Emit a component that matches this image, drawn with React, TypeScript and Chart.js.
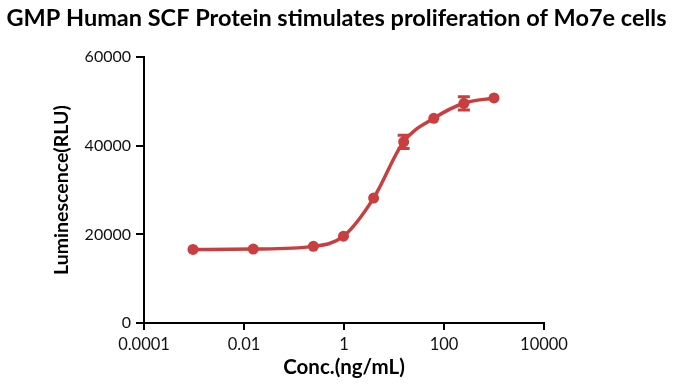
import React, { useEffect, useRef } from "react";
import { Chart, registerables } from "chart.js";

Chart.register(...registerables);

const titleText = "GMP Human SCF Protein stimulates proliferation of Mo7e cells";
const xAxisTitle = "Conc.(ng/mL)";
const yAxisTitle = "Luminescence(RLU)";

const concentrations = [0.000954, 0.0153, 0.244, 0.977, 3.91, 15.6, 62.5, 250, 1000];
const luminescence = [16600, 16700, 17300, 19600, 28200, 40900, 46200, 49600, 50800];
const errors = [0, 0, 0, 0, 0, 1500, 0, 1500, 0];

const xTicks = [0.0001, 0.01, 1, 100, 10000];
const xTickLabels = ["0.0001", "0.01", "1", "100", "10000"];
const yTicks = [0, 20000, 40000, 60000];

const RED = "#c93e3e";
const FONT = "Lato, 'Open Sans', sans-serif";

const errorBarPlugin = {
  id: "errorBars",
  afterDatasetsDraw(chart: any) {
    const { ctx, scales } = chart;
    const xs = scales.x;
    const ys = scales.y;
    ctx.save();
    ctx.strokeStyle = RED;
    ctx.lineWidth = 3;
    for (let i = 0; i < concentrations.length; i++) {
      if (!errors[i]) continue;
      const px = xs.getPixelForValue(concentrations[i]);
      const top = ys.getPixelForValue(luminescence[i] + errors[i]);
      const bot = ys.getPixelForValue(luminescence[i] - errors[i]);
      ctx.beginPath();
      ctx.moveTo(px, top);
      ctx.lineTo(px, bot);
      ctx.moveTo(px - 6, top);
      ctx.lineTo(px + 6, top);
      ctx.moveTo(px - 6, bot);
      ctx.lineTo(px + 6, bot);
      ctx.stroke();
    }
    ctx.restore();
  },
};

export default function App() {
  const ref = useRef<HTMLCanvasElement | null>(null);
  useEffect(() => {
    if (!ref.current) return;
    const chart = new Chart(ref.current, {
      type: "line",
      data: {
        datasets: [
          {
            xAxisID: "x",
            yAxisID: "y",
            data: concentrations.map((c, i) => ({ x: c, y: luminescence[i] })),
            borderColor: RED,
            backgroundColor: RED,
            borderWidth: 3.5,
            pointRadius: 5.5,
            pointBorderWidth: 0,
            pointBackgroundColor: RED,
            cubicInterpolationMode: "monotone",
            fill: false,
          },
        ],
      },
      options: {
        responsive: false,
        animation: false,
        layout: { padding: 0 },
        plugins: {
          legend: { display: false },
          tooltip: { enabled: false },
          title: {
            display: true,
            text: titleText,
            color: "#000",
            font: { family: FONT, size: 23.5, weight: "bold", lineHeight: 1.2 },
            padding: { top: 4, bottom: 25 },
          },
        },
        scales: {
          x: {
            type: "logarithmic",
            min: 0.0001,
            max: 10000,
            afterBuildTicks: (scale: any) => {
              scale.ticks = xTicks.map((v) => ({ value: v }));
            },
            afterFit: (scale: any) => {
              scale.height = 65;
            },
            ticks: {
              color: "#111",
              font: { family: FONT, size: 16.5 },
              padding: 5,
              autoSkip: false,
              maxRotation: 0,
              callback: (v: any) => {
                const idx = xTicks.indexOf(Number(v));
                return idx >= 0 ? xTickLabels[idx] : "";
              },
            },
            grid: {
              drawOnChartArea: false,
              drawTicks: true,
              tickLength: 7,
              color: "#000",
              lineWidth: 2,
            },
            border: { color: "#000", width: 2 },
            title: {
              display: true,
              text: xAxisTitle,
              color: "#000",
              font: { family: FONT, size: 20.5, weight: "bold", lineHeight: 1.2 },
              padding: { top: 0, bottom: 8 },
            },
          },
          y: {
            min: 0,
            max: 60000,
            afterBuildTicks: (scale: any) => {
              scale.ticks = yTicks.map((v) => ({ value: v }));
            },
            afterFit: (scale: any) => {
              scale.width = 144;
            },
            ticks: {
              color: "#111",
              font: { family: FONT, size: 16 },
              padding: 5,
              callback: (v: any) => String(v),
            },
            grid: {
              drawOnChartArea: false,
              drawTicks: true,
              tickLength: 8,
              color: "#000",
              lineWidth: 2,
            },
            border: { color: "#000", width: 2 },
            title: {
              display: true,
              text: yAxisTitle,
              color: "#000",
              font: { family: FONT, size: 19.5, weight: "bold", lineHeight: 1.2 },
              padding: { top: 50, bottom: 0 },
            },
          },
          yr: {
            position: "right",
            display: true,
            afterFit: (scale: any) => {
              scale.width = 129;
            },
            ticks: { display: false },
            grid: { display: false, drawTicks: false },
            border: { display: false },
          },
        },
      },
      plugins: [errorBarPlugin],
    });
    return () => chart.destroy();
  }, []);
  return (
    <div style={{ position: "fixed", left: 0, top: 0, width: 673, height: 388, background: "#fff" }}>
      <canvas ref={ref} width={673} height={388} />
    </div>
  );
}
